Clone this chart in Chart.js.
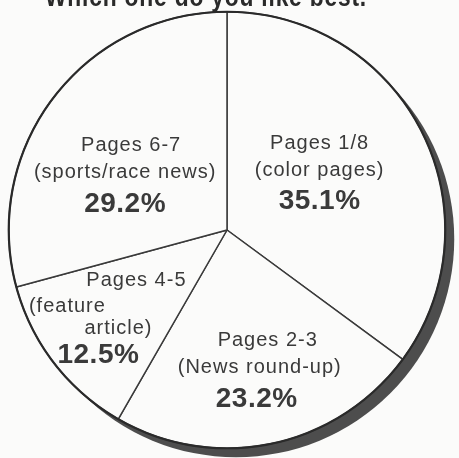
<!DOCTYPE html>
<html>
<head>
<meta charset="utf-8">
<script src="https://cdn.jsdelivr.net/npm/chart.js@4.4.1/dist/chart.umd.min.js"></script>
<style>
  html, body { margin: 0; padding: 0; background: #fbfbfa; }
  #wrap { width: 459px; height: 458px; }
</style>
</head>
<body>
<div id="wrap"><canvas id="pie" width="459" height="458"></canvas></div>
<script>
// 数据（从顶部顺时针）
const pageNames = ['Pages 1/8', 'Pages 2-3', 'Pages 4-5', 'Pages 6-7'];
const pageNotes = [['(color pages)'], ['(News round-up)'], ['(feature', 'article)'], ['(sports/race news)']];
const shares = [35.1, 23.2, 12.5, 29.2];
const titleText = 'Which one do you like best.';

const inkColor = '#3a3a3a';

// 阴影：在饼图下方画一个偏移的深色圆
const shadowPlugin = {
    id: 'shadow',
    beforeDatasetsDraw(chart) {
        const arc = chart.getDatasetMeta(0).data[0];
        if (!arc) return;
        const ctx = chart.ctx;
        ctx.save();
        ctx.fillStyle = '#4d4d4d';
        ctx.beginPath();
        ctx.arc(arc.x + 9, arc.y + 9, arc.outerRadius, 0, Math.PI * 2);
        ctx.fill();
        ctx.restore();
    },
    afterDatasetsDraw(chart) {
        const arc = chart.getDatasetMeta(0).data[0];
        if (!arc) return;
        const ctx = chart.ctx;
        ctx.save();
        ctx.strokeStyle = '#2a2a2a';
        ctx.lineWidth = 2.2;
        ctx.beginPath();
        ctx.arc(arc.x, arc.y, arc.outerRadius, 0, Math.PI * 2);
        ctx.stroke();
        ctx.restore();
    }
};

// 每个扇区的文字：位置相对扇区中线（角度微调，半径比例）
const labelPlugin = {
    id: 'sliceLabels',
    afterDraw(chart, args, opts) {
        const ctx = chart.ctx;
        const arcs = chart.getDatasetMeta(0).data;
        ctx.save();
        ctx.fillStyle = inkColor;
        ctx.textBaseline = 'middle';
        ctx.textAlign = 'center';
        arcs.forEach((arc, i) => {
            const mid = (arc.startAngle + arc.endAngle) / 2 + opts.angleNudge[i] * Math.PI / 180;
            const r = arc.outerRadius * opts.radiusFrac[i];
            const ax = arc.x + Math.cos(mid) * r;
            const ay = arc.y + Math.sin(mid) * r;
            const lines = [{ text: pageNames[i], bold: false }]
                .concat(pageNotes[i].map(t => ({ text: t, bold: false })))
                .concat([{ text: shares[i].toFixed(1) + '%', bold: true }]);
            const shifts = opts.lineShifts[i];
            lines.forEach((ln, k) => {
                ctx.font = ln.bold ? 'bold 28px "Liberation Sans", Arial, sans-serif'
                                   : '20px "Liberation Sans", Arial, sans-serif';
                ctx.letterSpacing = ln.bold ? '0.5px' : '1px';
                ctx.fillText(ln.text, ax + shifts[k][0], ay + shifts[k][1]);
            });
        });

        // 顶部被裁掉的标题
        ctx.font = 'bold 28px "Liberation Sans", Arial, sans-serif';
        ctx.letterSpacing = '1px';
        ctx.textAlign = 'left';
        ctx.textBaseline = 'alphabetic';
        ctx.fillStyle = '#2a2a2a';
        ctx.fillText(titleText, 45, 6, 322);
        ctx.restore();
    }
};

new Chart(document.getElementById('pie'), {
    type: 'pie',
    data: {
        labels: pageNames,
        datasets: [{
            data: shares,
            backgroundColor: '#fbfbfa',
            borderColor: '#3a3a3a',
            borderWidth: 1.5
        }]
    },
    options: {
        responsive: false,
        devicePixelRatio: 1,
        animation: false,
        layout: { padding: { top: 11, left: 8, right: 13, bottom: 9 } },
        plugins: {
            legend: { display: false },
            tooltip: { enabled: false },
            sliceLabels: {
                angleNudge: [-6, -1.5, 4, -8],
                radiusFrac: [0.505, 0.648, 0.724, 0.536],
                lineShifts: [
                    [[0, -27], [0, 0], [0, 31]],
                    [[8, -27], [0, 0], [-3, 32]],
                    [[41, -37], [-28, -11], [23, 11], [3, 38]],
                    [[6, -27], [0, 0], [0, 32]]
                ]
            }
        }
    },
    plugins: [shadowPlugin, labelPlugin]
});
</script>
</body>
</html>
